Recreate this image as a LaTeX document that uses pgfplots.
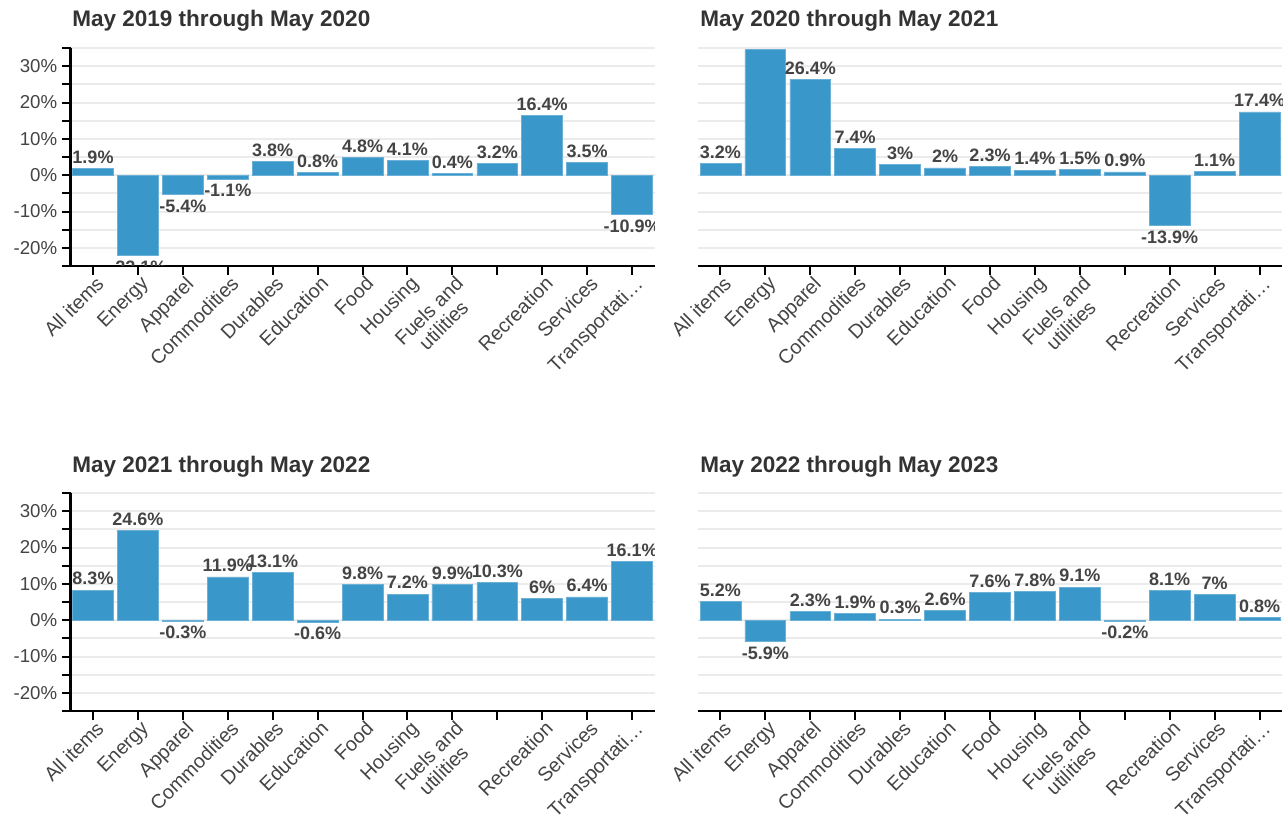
\documentclass[border=0pt]{standalone}
\usepackage{fontspec}
\setmainfont{Liberation Sans}
\usepackage{pgfplots}
\usepackage{pgfplotstable}
\pgfplotsset{compat=1.18}

\definecolor{barblue}{HTML}{3A97C9}
\definecolor{txt}{HTML}{444444}
\definecolor{ttl}{HTML}{333333}
\definecolor{gridc}{HTML}{EBEBEB}

\pgfplotstableread{
x   a      b     c     d
0   1.9    3.2   8.3   5.2
1   -22.1  34.5  24.6  -5.9
2   -5.4   26.4  -0.3  2.3
3   -1.1   7.4   11.9  1.9
4   3.8    3     13.1  0.3
5   0.8    2     -0.6  2.6
6   4.8    2.3   9.8   7.6
7   4.1    1.4   7.2   7.8
8   0.4    1.5   9.9   9.1
9   3.2    0.9   10.3  -0.2
10  16.4   -13.9 6     8.1
11  3.5    1.1   6.4   7
12  -10.9  17.4  16.1  0.8
}\data

\pgfplotsset{
  panel/.style={
    scale only axis, width=438pt, height=163.5pt,
    xmin=-0.5, xmax=12.5, ymin=-25, ymax=35,
    clip marker paths=true,
    ybar, bar width=0.91,
    axis x line*=bottom, axis y line*=left,
    axis line style={-, black, line width=1.7pt},
    tick align=outside,
    major tick length=6.5pt, minor tick length=6.5pt,
    tick style={black, line width=1.5pt},
    xtick={0,...,12},
    xticklabels={All items, Energy, Apparel, Commodities, Durables, Education, Food, Housing, {Fuels and\\utilities}, {}, Recreation, Services, Transportati…},
    xticklabel style={rotate=45, anchor=north east, align=center, font=\fontsize{14.8}{15.5}\selectfont, text=txt, inner sep=1pt, xshift=2pt},
    ytick={-20,-10,...,30},
    minor ytick={-25,-15,...,35},
    ymajorgrids, yminorgrids,
    major grid style={gridc, line width=1.5pt},
    minor grid style={gridc, line width=1.5pt},
    yticklabel={\pgfmathprintnumber{\tick}\%},
    /pgf/number format/assume math mode=true,
    yticklabel style={font=\fontsize{14}{16}\selectfont, text=txt},
    nodes near coords={\pgfmathprintnumber[assume math mode=true]{\pgfplotspointmeta}\%},
    every node near coord/.append style={font=\bfseries\fontsize{13.5}{15}\selectfont, text=txt, inner sep=3.5pt},
  },
  noy/.style={
    y axis line style={draw=none},
    ytick style={draw=none},
    yticklabels={},
  },
  bars/.style={fill=barblue, draw=barblue!75!white, line width=0.5pt},
}

\begin{document}
\begin{tikzpicture}
\path[use as bounding box] (0,0) rectangle (962.25pt,-618.75pt);

\begin{axis}[panel, at={(52.9pt,-36pt)}, anchor=north west]
\addplot[bars] table[x=x, y=a] {\data};
\end{axis}
\begin{axis}[panel, noy, at={(523.5pt,-36pt)}, anchor=north west]
\addplot[bars] table[x=x, y=b] {\data};
\end{axis}
\begin{axis}[panel, at={(52.9pt,-369.75pt)}, anchor=north west]
\addplot[bars] table[x=x, y=c] {\data};
\end{axis}
\begin{axis}[panel, noy, at={(523.5pt,-369.75pt)}, anchor=north west]
\addplot[bars] table[x=x, y=d] {\data};
\end{axis}

\begin{scope}[every node/.style={anchor=base west, inner sep=0pt, text=ttl, font=\bfseries\fontsize{16.9}{19}\selectfont}]
\node at (54pt,-20pt) {May 2019 through May 2020};
\node at (525pt,-20pt) {May 2020 through May 2021};
\node at (54pt,-354pt) {May 2021 through May 2022};
\node at (525pt,-354pt) {May 2022 through May 2023};
\end{scope}
\end{tikzpicture}
\end{document}
